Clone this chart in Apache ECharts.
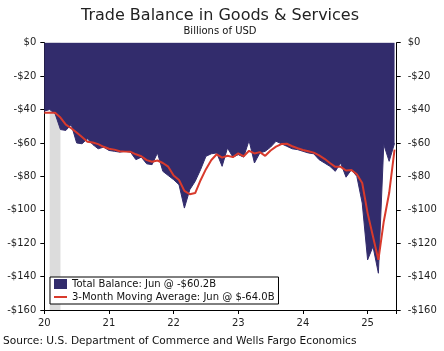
<!DOCTYPE html>
<html>
<head>
<meta charset="utf-8">
<script src="https://cdn.jsdelivr.net/npm/echarts@6/dist/echarts.min.js"></script>
<style>
	html, body { margin: 0; padding: 0; background: #fff; }
	#chart { width: 444px; height: 351px; }
</style>
</head>
<body>
<div id="chart"></div>
<script>
	// months counted from Jan 2020 (index 0) to Jun 2025 (index 65)
	const yearLabels = ['20', '21', '22', '23', '24', '25']
	const yTicks = [0, -20, -40, -60, -80, -100, -120, -140, -160]
	const recessionBand = [1, 3] // Feb 2020 - Apr 2020

	// Total balance, billions of USD, monthly
	const balance = [
		-41.0, -40.0, -42.5, -52.0, -52.5, -49.0, -60.0, -60.5, -57.5, -61.0, -63.5, -62.5,
		-64.5, -65.0, -65.5, -65.0, -65.5, -70.0, -68.5, -72.5, -73.0, -66.0, -77.0, -79.5,
		-82.0, -85.0, -99.0, -88.0, -83.0, -76.0, -68.0, -66.5, -66.0, -74.0, -63.0, -68.5,
		-67.0, -68.5, -58.5, -72.0, -66.0, -65.0, -62.5, -59.0, -60.5, -62.0, -63.5, -64.0,
		-65.0, -66.0, -66.5, -70.0, -72.0, -74.0, -77.0, -72.0, -80.5, -76.0, -80.0, -96.0,
		-130.0, -122.0, -138.0, -61.0, -71.0, -60.2
	]

	// 3-month moving average
	const movingAvg = [
		-42.0, -42.0, -42.0, -44.8, -49.0, -51.2, -53.8, -56.5, -59.3, -59.7, -60.7, -62.3,
		-63.5, -64.0, -65.0, -65.2, -65.3, -66.8, -68.0, -70.3, -71.3, -70.5, -72.0, -74.2,
		-79.5, -82.2, -88.7, -90.7, -90.0, -82.3, -75.7, -70.2, -66.8, -68.8, -67.7, -68.5,
		-66.2, -68.0, -64.7, -66.3, -65.5, -67.7, -64.5, -62.2, -60.7, -60.5, -62.0, -63.2,
		-64.2, -65.0, -65.8, -67.5, -69.5, -72.0, -74.3, -74.3, -76.5, -76.2, -78.8, -84.0,
		-102.0, -116.0, -130.0, -107.0, -90.0, -64.0
	]

	const names = ['Total Balance: Jun @ -$60.2B', '3-Month Moving Average: Jun @ $-64.0B']

	const font = 'DejaVu Sans'
	const ink = '#1e1e1e'
	const navy = '#322c6c'
	const red = '#d83a2c'

	let yLabel = function(v) {
		return v === 0 ? '$0' : '-$' + Math.abs(v)
	}

	let yAxisBase = function(pos, margin) {
		return {
			type: 'value',
			position: pos,
			min: yTicks[yTicks.length - 1],
			max: yTicks[0],
			interval: 20,
			axisLine: { show: true, lineStyle: { color: '#000', width: 1 } },
			axisTick: { show: true, length: 4, lineStyle: { color: '#000' } },
			axisLabel: { formatter: yLabel, margin: margin, fontSize: 10, color: ink, fontFamily: font },
			splitLine: { show: false }
		}
	}

	let myChart = echarts.init(document.getElementById('chart'))
	myChart.setOption({
		animation: false,
		textStyle: { fontFamily: font },
		grid: { left: 44.3, right: 47.3, top: 42.7, bottom: 41 },
		graphic: [
			{
				type: 'text', x: 220, y: 16,
				style: { text: 'Trade Balance in Goods & Services', font: '16px "DejaVu Sans"', fill: '#222', textAlign: 'center', textVerticalAlign: 'middle' }
			},
			{
				type: 'text', x: 220, y: 31,
				style: { text: 'Billions of USD', font: '10px "DejaVu Sans"', fill: '#111', textAlign: 'center', textVerticalAlign: 'middle' }
			},
			{
				type: 'text', x: 3, y: 341,
				style: { text: 'Source: U.S. Department of Commerce and Wells Fargo Economics', font: '10.6px "DejaVu Sans"', fill: '#111', textAlign: 'left', textVerticalAlign: 'middle' }
			}
		],
		legend: {
			orient: 'vertical',
			left: 50,
			top: 277,
			padding: [2, 4, 2, 4],
			itemGap: 3,
			itemWidth: 13,
			itemHeight: 10,
			symbolKeepAspect: true,
			borderColor: '#000',
			borderWidth: 1,
			backgroundColor: '#fff',
			textStyle: { fontSize: 10, color: '#111', fontFamily: font },
			data: [
				{ name: names[0], icon: 'rect' },
				{ name: names[1], icon: 'path://M0,0L26,0L26,4L0,4Z', itemStyle: { color: red } }
			]
		},
		xAxis: {
			type: 'value',
			min: 0,
			max: 65.4,
			interval: 12,
			axisLine: { show: true, onZero: false, lineStyle: { color: '#000', width: 1 } },
			axisTick: { show: true, length: 4, lineStyle: { color: '#000' } },
			axisLabel: {
				margin: 8, fontSize: 10, color: ink, fontFamily: font,
				formatter: function(v) {
					return v % 12 === 0 && yearLabels[v / 12] ? yearLabels[v / 12] : ''
				}
			},
			splitLine: { show: false }
		},
		yAxis: [yAxisBase('left', 8), yAxisBase('right', 11)],
		series: [
			{
				name: 'recession',
				type: 'line',
				z: 1,
				data: [],
				markArea: {
					silent: true,
					itemStyle: { color: '#dcdcdc' },
					data: [[{ xAxis: recessionBand[0] }, { xAxis: recessionBand[1] }]]
				}
			},
			{
				name: names[0],
				type: 'line',
				z: 2,
				symbol: 'none',
				data: balance.map((v, i) => [i, v]),
				itemStyle: { color: navy },
				lineStyle: { color: navy, width: 1 },
				areaStyle: { color: navy, opacity: 1, origin: 'end' }
			},
			{
				name: names[1],
				type: 'line',
				z: 3,
				symbol: 'none',
				data: movingAvg.map((v, i) => [i, v]),
				itemStyle: { color: red },
				lineStyle: { color: red, width: 2 }
			}
		]
	})
</script>
</body>
</html>
